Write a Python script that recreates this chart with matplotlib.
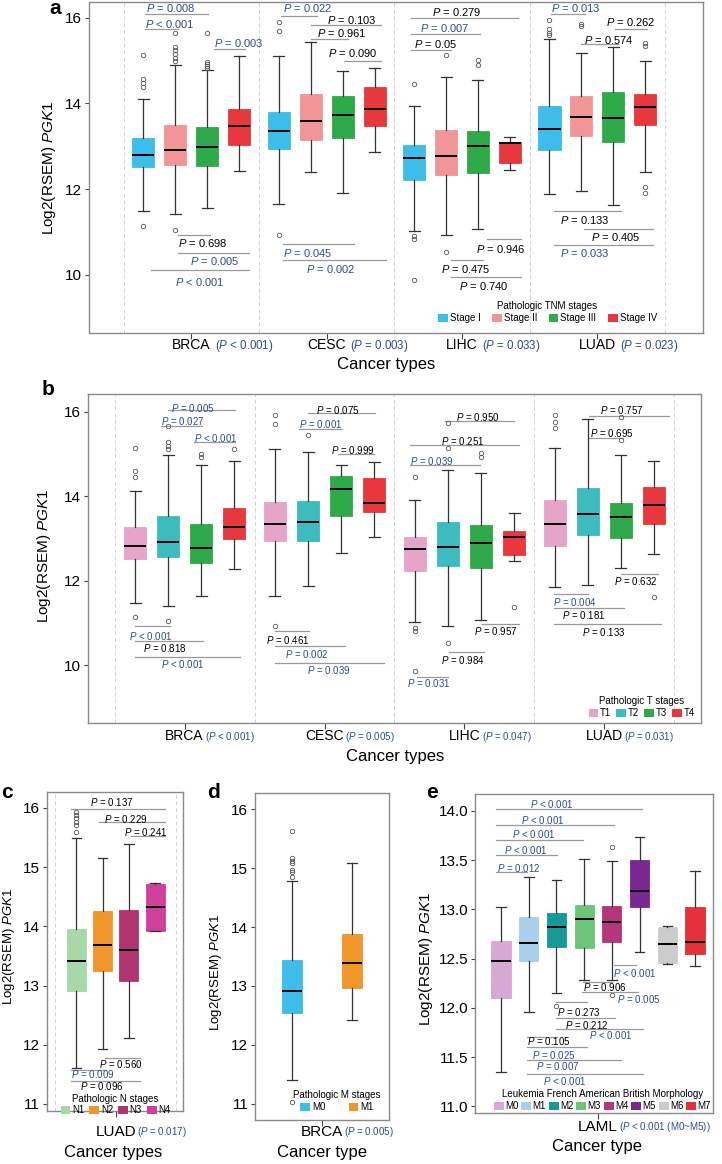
import matplotlib
matplotlib.use("Agg")
from matplotlib import pyplot as plt
from matplotlib.patches import Patch

plt.rcParams["font.family"] = ["Liberation Sans", "DejaVu Sans"]
plt.rcParams["mathtext.fontset"] = "custom"
plt.rcParams["mathtext.rm"] = "Liberation Sans"
plt.rcParams["mathtext.it"] = "Liberation Sans:italic"

W, H = 722, 1164
BLUE = "#2d4a9a"
BRACKET = "#9a9a9a"

# ---------------- a : pathologic TNM stages ----------------
a_groups = ["BRCA", "CESC", "LIHC", "LUAD"]
a_group_p = ["< 0.001", "= 0.003", "= 0.033", "= 0.023"]
a_levels = ["Stage I", "Stage II", "Stage III", "Stage IV"]
a_med = [[12.80, 12.91, 12.98, 13.47], [13.35, 13.58, 13.72, 13.88],
         [12.73, 12.77, 13.00, 13.08], [13.40, 13.69, 13.65, 13.91]]
a_q1 = [[12.51, 12.56, 12.54, 13.02], [12.94, 13.15, 13.19, 13.47],
        [12.21, 12.34, 12.37, 12.61], [12.91, 13.23, 13.09, 13.50]]
a_q3 = [[13.19, 13.49, 13.44, 13.88], [13.81, 14.22, 14.17, 14.39],
        [13.03, 13.38, 13.35, 13.09], [13.94, 14.18, 14.26, 14.22]]
a_lo = [[11.49, 11.42, 11.57, 12.43], [11.66, 12.41, 11.90, 12.87],
        [11.03, 10.93, 11.07, 12.45], [11.88, 11.96, 11.63, 12.41]]
a_hi = [[14.11, 14.89, 14.78, 15.10], [15.10, 15.43, 14.75, 14.82],
        [13.93, 14.62, 14.55, 13.21], [15.51, 15.17, 15.31, 14.99]]
a_out = [[[15.14, 14.58, 14.48, 14.38, 11.15], [15.65, 15.31, 15.24, 15.16, 15.06, 14.99, 11.05],
          [15.64, 14.98, 14.92, 14.87, 14.82], []],
         [[15.91, 15.70, 10.93], [], [], []],
         [[14.46, 10.90, 10.83, 9.88], [15.13, 10.53], [15.02, 14.89], []],
         [[15.96, 15.75, 15.65, 15.59], [15.86, 15.81], [], [15.41, 15.35, 12.06, 11.92]]]
a_pvals = [["= 0.008", "< 0.001", "= 0.003", "= 0.698", "= 0.005", "< 0.001"],
           ["= 0.022", "= 0.103", "= 0.961", "= 0.090", "= 0.045", "= 0.002"],
           ["= 0.279", "= 0.007", "= 0.05", "= 0.946", "= 0.475", "= 0.740"],
           ["= 0.013", "= 0.262", "= 0.574", "= 0.133", "= 0.405", "= 0.033"]]

# ---------------- b : pathologic T stages ----------------
b_groups = ["BRCA", "CESC", "LIHC", "LUAD"]
b_group_p = ["< 0.001", "= 0.005", "= 0.047", "= 0.031"]
b_levels = ["T1", "T2", "T3", "T4"]
b_med = [[12.81, 12.92, 12.78, 13.26], [13.35, 13.40, 14.17, 13.85],
         [12.74, 12.79, 12.89, 13.04], [13.34, 13.59, 13.50, 13.80]]
b_q1 = [[12.51, 12.56, 12.41, 12.98], [12.93, 12.95, 13.54, 13.62],
        [12.23, 12.34, 12.31, 12.61], [12.82, 13.09, 13.00, 13.35]]
b_q3 = [[13.28, 13.52, 13.34, 13.72], [13.87, 13.89, 14.48, 14.42],
        [13.03, 13.40, 13.32, 13.17], [13.91, 14.20, 13.85, 14.21]]
b_lo = [[11.48, 11.41, 11.63, 12.28], [11.64, 11.88, 12.65, 13.03],
        [11.02, 10.92, 11.06, 12.47], [11.86, 11.89, 12.31, 12.62]]
b_hi = [[14.12, 14.97, 14.74, 14.83], [15.12, 15.04, 14.75, 14.82],
        [13.92, 14.62, 14.55, 13.61], [15.15, 15.83, 14.98, 14.84]]
b_out = [[[15.15, 14.59, 14.46, 11.14], [15.66, 15.29, 15.19, 15.12, 11.04], [14.99, 14.93], [15.12]],
         [[15.92, 15.71, 10.93], [15.45], [], []],
         [[14.46, 10.88, 10.82, 9.86], [15.74, 15.13, 10.52], [15.03, 14.92], [11.37]],
         [[15.92, 15.76, 15.62], [], [15.88, 15.33], [11.61]]]
b_pvals = [["= 0.005", "= 0.027", "< 0.001", "< 0.001", "= 0.818", "< 0.001"],
           ["= 0.075", "= 0.001", "= 0.999", "= 0.461", "= 0.002", "= 0.039"],
           ["= 0.950", "= 0.251", "= 0.039", "= 0.957", "= 0.984", "= 0.031"],
           ["= 0.757", "= 0.695", "= 0.632", "= 0.004", "= 0.181", "= 0.133"]]

# ---------------- c : pathologic N stages ----------------
c_groups = ["LUAD"]
c_group_p = ["= 0.017"]
c_levels = ["N1", "N2", "N3", "N4"]
c_med = [[13.41, 13.69, 13.60, 14.32]]
c_q1 = [[12.91, 13.24, 13.08, 13.92]]
c_q3 = [[13.95, 14.26, 14.28, 14.72]]
c_lo = [[11.60, 11.93, 12.11, 13.92]]
c_hi = [[15.49, 15.16, 15.39, 14.74]]
c_out = [[[15.94, 15.88, 15.83, 15.77, 15.71, 15.60], [], [], []]]
c_pvals = [["= 0.137", "= 0.229", "= 0.241", "= 0.560", "= 0.009", "= 0.096"]]

# ---------------- d : pathologic M stages ----------------
d_groups = ["BRCA"]
d_group_p = ["= 0.005"]
d_levels = ["M0", "M1"]
d_med = [[12.91, 13.39]]
d_q1 = [[12.54, 12.96]]
d_q3 = [[13.44, 13.88]]
d_lo = [[11.40, 12.42]]
d_hi = [[14.78, 15.09]]
d_out = [[[15.64, 15.17, 15.13, 15.09, 14.97, 14.93, 14.86, 11.03], []]]

# ---------------- e : LAML FAB morphology ----------------
e_groups = ["LAML"]
e_group_p = ["< 0.001 (M0~M5)"]
e_levels = ["M0", "M1", "M2", "M3", "M4", "M5", "M6", "M7"]
e_med = [[12.48, 12.66, 12.82, 12.90, 12.87, 13.19, 12.65, 12.67]]
e_q1 = [[12.10, 12.48, 12.62, 12.61, 12.67, 13.02, 12.46, 12.55]]
e_q3 = [[12.68, 12.92, 12.96, 13.04, 13.03, 13.50, 12.82, 13.02]]
e_lo = [[11.35, 11.96, 12.15, 12.28, 12.28, 12.57, 12.45, 12.42]]
e_hi = [[13.02, 13.33, 13.30, 13.51, 13.49, 13.73, 12.83, 13.39]]
e_out = [[[], [], [12.02], [], [13.63, 12.13], [], [], []]]
e_pvals = [["< 0.001", "< 0.001", "< 0.001", "< 0.001", "= 0.012",
            "< 0.001", "= 0.906", "= 0.005", "= 0.273", "= 0.212", "< 0.001",
            "= 0.105", "= 0.025", "= 0.007", "< 0.001"]]

# bracket layout: (from box, to box, line y, text x (box units), text y)
a_brackets = [
    [(0.04, 2.03, 16.10, 0.09, 16.23), (0.04, 1.09, 15.74, 0.04, 15.86), (2.22, 3.18, 15.28, 2.22, 15.41),
     (1.09, 2.10, 10.93, 1.09, 10.74), (1.09, 3.32, 10.51, 1.45, 10.31), (0.23, 3.32, 10.11, 0.99, 9.84)],
    [(0.07, 1.19, 16.04, 0.12, 16.23), (1.01, 3.19, 15.83, 1.51, 15.95), (1.01, 2.16, 15.51, 1.19, 15.64),
     (2.04, 3.19, 14.99, 1.55, 15.18), (0.12, 2.35, 10.72, 0.14, 10.50), (0.12, 3.35, 10.34, 0.86, 10.13)],
    [(-0.09, 3.25, 16.00, 0.55, 16.13), (-0.09, 2.07, 15.62, 0.20, 15.76), (-0.09, 1.17, 15.26, -0.01, 15.38),
     (2.27, 3.34, 10.83, 1.93, 10.61), (1.17, 2.17, 10.34, 0.83, 10.13), (1.17, 3.34, 9.94, 1.42, 9.74)],
    [(0.04, 1.12, 16.09, 0.04, 16.23), (2.06, 3.06, 15.74, 1.77, 15.91), (0.98, 2.13, 15.38, 1.08, 15.49),
     (0.14, 2.24, 11.48, 0.33, 11.28), (1.08, 3.24, 11.07, 1.31, 10.89), (0.14, 3.24, 10.69, 0.33, 10.50)]]
b_brackets = [
    [(1.01, 3.03, 16.04, 1.08, 16.10), (0.80, 2.03, 15.67, 0.80, 15.79), (1.79, 3.03, 15.29, 1.79, 15.38),
     (0.00, 1.06, 10.92, -0.18, 10.70), (0.00, 2.07, 10.57, 0.24, 10.41), (0.00, 3.17, 10.20, 0.80, 10.03)],
    [(1.00, 3.04, 15.96, 1.25, 16.04), (0.72, 2.03, 15.58, 0.72, 15.70), (1.92, 3.01, 14.99, 1.70, 15.09),
     (0.00, 1.04, 10.80, -0.27, 10.60), (0.00, 2.13, 10.45, 0.30, 10.26), (0.00, 3.31, 10.06, 0.96, 9.89)],
    [(0.90, 3.01, 15.79, 1.25, 15.87), (-0.15, 3.15, 15.22, 0.80, 15.31), (-0.15, 1.96, 14.73, -0.15, 14.83),
     (2.03, 3.15, 10.98, 1.79, 10.82), (1.04, 2.10, 10.30, 0.80, 10.12), (0.06, 1.01, 9.73, -0.25, 9.57)],
    [(1.03, 3.46, 15.91, 1.38, 16.03), (1.03, 2.06, 15.38, 1.07, 15.49), (2.01, 3.11, 12.16, 1.80, 12.00),
     (-0.03, 1.00, 11.68, -0.06, 11.50), (-0.03, 2.08, 11.35, 0.23, 11.18), (-0.03, 3.21, 10.98, 0.82, 10.79)]]
c_brackets = [
    [(-0.19, 3.38, 15.99, 0.51, 16.10), (0.85, 3.38, 15.76, 1.05, 15.82), (2.09, 3.38, 15.53, 1.80, 15.60),
     (1.08, 2.41, 11.78, 0.85, 11.68), (-0.19, 1.14, 11.57, -0.19, 11.51), (-0.19, 2.41, 11.39, 0.13, 11.30)]]
e_brackets = [
    [(-0.18, 5.08, 14.02, 1.05, 14.07), (-0.18, 4.06, 13.86, 0.71, 13.91), (-0.18, 2.97, 13.70, 0.39, 13.76),
     (-0.18, 2.03, 13.55, 0.11, 13.60), (-0.18, 0.93, 13.38, -0.13, 13.42),
     (4.06, 4.87, 12.43, 4.03, 12.35), (2.97, 4.00, 12.26, 2.94, 12.21), (2.91, 4.96, 12.16, 4.18, 12.09),
     (1.99, 3.12, 12.06, 2.03, 11.96), (1.99, 4.12, 11.90, 2.31, 11.83), (1.99, 5.11, 11.79, 3.19, 11.72),
     (0.95, 2.03, 11.70, 0.95, 11.66), (0.95, 3.12, 11.60, 1.11, 11.52), (0.95, 4.32, 11.47, 1.26, 11.41),
     (0.95, 5.11, 11.33, 1.53, 11.26)]]

a_colors = ["#3dbdea", "#f29596", "#2eaa4a", "#e8383d"]
b_colors = ["#e6a4c9", "#3dbcc0", "#2eaa4a", "#e8383d"]
c_colors = ["#a6d8a8", "#f0962a", "#b1346f", "#cf409b"]
d_colors = ["#3dbdea", "#f0962a"]
e_colors = ["#d5a9d3", "#a9cfeb", "#159a98", "#6cc57a", "#b5367a", "#7b2790", "#cccccc", "#e4313a"]


def frac(l, t, r, b):
    return [l / W, 1 - b / H, (r - l) / W, (b - t) / H]


def is_sig(p):
    return p.startswith("<") or float(p.split()[1]) < 0.05


def ptext(p):
    return r"$\mathit{P}$ " + p


fig = plt.figure(figsize=(W / 100, H / 100), dpi=100)


def panel(rect, xlim, ylim, yticks, yfmt, groups, group_p, levels, colors,
          med, q1, q3, lo, hi, out, step, width, pvals=None, brackets=None,
          psize=7, seps=True, name_size=10, gp_size=7, name_off=9, gp_gap=1,
          leg_title="", leg_anchor=(1, 0), leg_loc="lower right", leg_cs=0.8, leg_size=7,
          leg_pad=0.2):
    ax = fig.add_axes(frac(*rect))
    n = len(levels)
    for g in range(len(groups)):
        xs = lambda k, g=g: g + 1 + (k - (n - 1) / 2) * step
        stats = [dict(med=med[g][k], q1=q1[g][k], q3=q3[g][k], whislo=lo[g][k],
                      whishi=hi[g][k], fliers=out[g][k]) for k in range(n)]
        art = ax.bxp(stats, positions=[xs(k) for k in range(n)], widths=width,
                     capwidths=width * 0.5, patch_artist=True, manage_ticks=False,
                     boxprops=dict(linewidth=0.6),
                     medianprops=dict(color="black", linewidth=1.4),
                     whiskerprops=dict(color="#333333", linewidth=0.9),
                     capprops=dict(color="#333333", linewidth=0.9),
                     flierprops=dict(marker="o", markerfacecolor="none", markeredgecolor="#555555",
                                     markersize=3.2, markeredgewidth=0.6, linestyle="none"))
        for patch, c in zip(art["boxes"], colors):
            patch.set_facecolor(c)
            patch.set_edgecolor(c)
        if pvals is not None:
            for p, (k1, k2, yl, tx, ty) in zip(pvals[g], brackets[g]):
                ax.plot([xs(k1), xs(k2)], [yl, yl], color=BRACKET, lw=0.9, zorder=1)
                ax.text(xs(tx), ty, ptext(p), fontsize=psize, ha="left", va="center",
                        color=BLUE if is_sig(p) else "black")
        if seps:
            for xv in (g + 0.5, g + 1.5):
                ax.axvline(xv, color="#d3d3d3", lw=0.7, ls=(0, (4, 3)), zorder=0)
        t = ax.annotate(groups[g], xy=(g + 1, 0), xycoords=("data", "axes fraction"),
                        xytext=(0, -name_off), textcoords="offset points",
                        ha="center", va="center", fontsize=name_size)
        ax.annotate("(" + ptext(group_p[g]) + ")", xy=(1, 0.45), xycoords=t,
                    xytext=(gp_gap, 0), textcoords="offset points",
                    ha="left", va="center", fontsize=gp_size, color=BLUE)
    ax.set_xlim(*xlim)
    ax.set_ylim(*ylim)
    ax.set_xticks(range(1, len(groups) + 1))
    ax.set_yticks(yticks)
    ax.set_yticklabels([yfmt.format(v) for v in yticks])
    ax.tick_params(axis="x", labelbottom=False, length=4, color="#444444")
    ax.tick_params(axis="y", labelsize=11, length=3, color="#444444", pad=2)
    for s in ax.spines.values():
        s.set_color("#8a8a8a")
        s.set_linewidth(1.0)
    handles = [Patch(facecolor=c, edgecolor="none") for c in colors]
    ax.legend(handles, levels, title=leg_title, ncol=n, loc=leg_loc, bbox_to_anchor=leg_anchor,
              frameon=False, fontsize=leg_size, title_fontsize=leg_size, handlelength=1.0,
              handleheight=0.9, handletextpad=leg_pad, columnspacing=leg_cs, borderpad=0,
              borderaxespad=0, labelspacing=0.2)
    return ax


ylab = r"Log2(RSEM) $\mathit{PGK1}$"

# a
panel((89, 2, 703, 333), (0.245, 4.78), (8.64, 16.37), [10, 12, 14, 16], "{:d}",
      a_groups, a_group_p, a_levels, a_colors, a_med, a_q1, a_q3, a_lo, a_hi, a_out,
      0.236, 0.163, a_pvals, a_brackets, psize=8, name_size=10, gp_size=8.3, name_off=8.6, gp_gap=3,
      leg_title="Pathologic TNM stages", leg_anchor=(0.925, 0.03), leg_cs=1.2)
# b
panel((88, 394, 701, 723), (0.31, 4.69), (8.63, 16.42), [10, 12, 14, 16], "{:d}",
      b_groups, b_group_p, b_levels, b_colors, b_med, b_q1, b_q3, b_lo, b_hi, b_out,
      0.236, 0.157, b_pvals, b_brackets, psize=7, name_size=10, gp_size=7, name_off=9.4, gp_gap=1,
      leg_title="Pathologic T stages", leg_anchor=(0.99, 0.015), leg_cs=0.5)
# c
panel((46.7, 792, 182.7, 1111), (0.428, 1.555), (10.88, 16.27), [11, 12, 13, 14, 15, 16], "{:d}",
      c_groups, c_group_p, c_levels, c_colors, c_med, c_q1, c_q3, c_lo, c_hi, c_out,
      0.218, 0.157, c_pvals, c_brackets, psize=7, name_size=11, gp_size=7, name_off=14.9, gp_gap=1,
      leg_title="Pathologic N stages", leg_anchor=(0.507, -0.014), leg_loc="lower center", leg_cs=0.5)
# d
panel((255.3, 793, 389.3, 1120), (0.44, 1.56), (10.72, 16.28), [11, 12, 13, 14, 15, 16], "{:d}",
      d_groups, d_group_p, d_levels, d_colors, d_med, d_q1, d_q3, d_lo, d_hi, d_out,
      0.5, 0.167, seps=False, name_size=11, gp_size=7, name_off=8.4, gp_gap=0.5,
      leg_title="Pathologic M stages", leg_anchor=(0.61, 0.024), leg_loc="lower center", leg_cs=2.4)
# e
panel((475, 794, 713.3, 1113.3), (0.556, 1.416), (10.93, 14.17), [11.0, 11.5, 12.0, 12.5, 13.0, 13.5, 14.0], "{:.1f}",
      e_groups, e_group_p, e_levels, e_colors, e_med, e_q1, e_q3, e_lo, e_hi, e_out,
      0.1, 0.069, e_pvals, e_brackets, psize=7, seps=False, name_size=11, gp_size=7, name_off=9.6, gp_gap=0.5,
      leg_title="Leukemia French American British Morphology", leg_anchor=(0.535, 0.007),
      leg_loc="lower center", leg_cs=0.3, leg_pad=0.15)

# axis titles and panel letters (pixel positions)
for x, y, s in [(48.6, 167.5, 11), (44, 556, 11), (9, 946, 9.5), (216, 972, 9.5), (426, 959, 11)]:
    fig.text(x / W, 1 - y / H, ylab, rotation=90, ha="center", va="center", fontsize=s)
for x, y, s, txt in [(386, 365, 12, "Cancer types"), (395, 756, 12, "Cancer types"),
                     (113, 1152, 12, "Cancer types"), (322, 1153, 12, "Cancer type"),
                     (597, 1147, 12, "Cancer type")]:
    fig.text(x / W, 1 - y / H, txt, ha="center", va="center", fontsize=s)
for x, y, lab in [(55, 9, "a"), (48, 390, "b"), (7, 793, "c"), (213, 793, "d"), (432, 793, "e")]:
    fig.text(x / W, 1 - y / H, lab, ha="center", va="center", fontsize=15, fontweight="bold")

fig.savefig("out.png", dpi=100)
